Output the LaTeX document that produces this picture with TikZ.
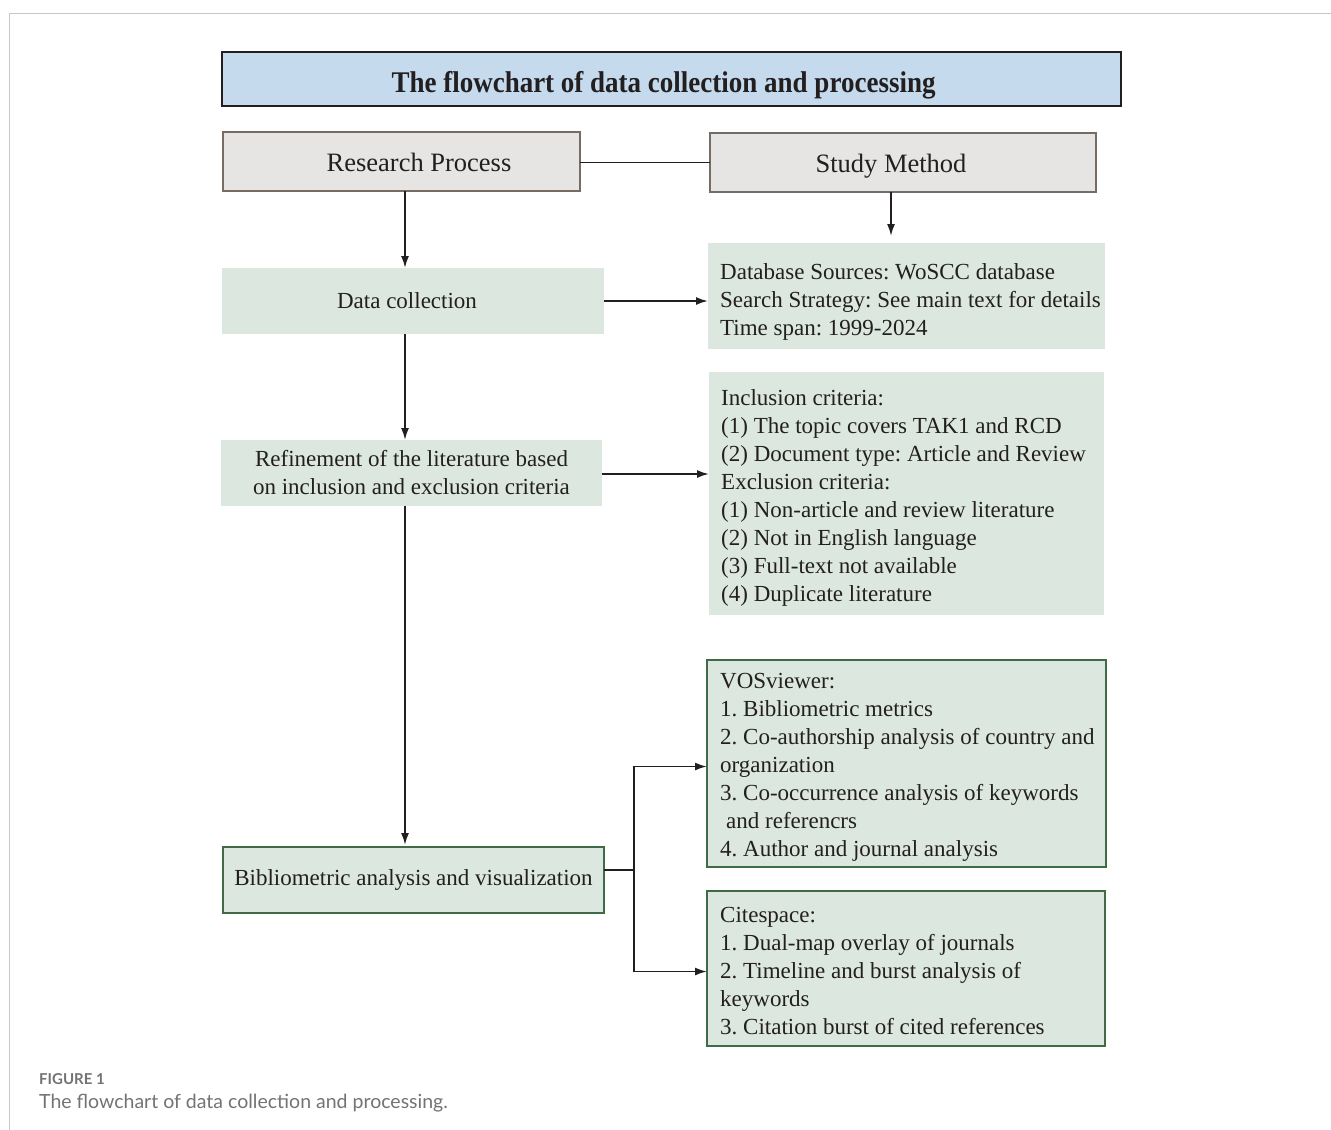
\documentclass[tikz,border=0pt]{standalone}
\usepackage{fontspec}
\setmainfont{Liberation Serif}
\newfontfamily\titlefont[FakeStretch=0.9]{Liberation Serif}
\newfontfamily\capfont{Lato}
\usetikzlibrary{arrows.meta,calc}
\definecolor{ink}{HTML}{231F20}
\definecolor{titlefill}{HTML}{C5DAED}
\definecolor{grayfill}{HTML}{E6E5E4}
\definecolor{grayline}{HTML}{766C66}
\definecolor{greenfill}{HTML}{DCE7DF}
\definecolor{greenline}{HTML}{3F6B46}
\definecolor{framegray}{HTML}{C8C8C8}
\definecolor{capgray}{HTML}{737373}
\frenchspacing
\begin{document}
\begin{tikzpicture}[x=1pt,y=-1pt,
  base/.style={anchor=north west, inner sep=0pt, outer sep=0pt, text=ink},
  titlebox/.style={base, fill=titlefill, draw=ink, line width=2.6pt,
    text height=26pt, text depth=0pt,
    font=\titlefont\bfseries\fontsize{30}{30}\selectfont},
  graybox/.style={base, fill=grayfill, draw=grayline, line width=1.6pt,
    text height=19pt, text depth=0pt,
    font=\fontsize{26.5}{30}\selectfont},
  greenbox/.style={base, fill=greenfill, align=center,
    font=\fontsize{23}{28}\selectfont},
  framedgreen/.style={greenbox, draw=greenline, line width=1.6pt},
  txt/.style={anchor=west, inner sep=0pt, align=left, text=ink,
    font=\fontsize{23}{28}\selectfont},
  conn/.style={draw=ink, line width=1.8pt},
  arr/.style={conn, -{Latex[length=12pt,width=8pt]}},
  captxt/.style={anchor=base west, inner sep=0pt, text=capgray}
]
\useasboundingbox (0,0) rectangle (1331,1130);
% page frame
\draw[framegray, line width=1.2pt] (9.5,1130) -- (9.5,13.5) -- (1331,13.5);

% title
\node[titlebox, minimum width=899, minimum height=54] (title) at (222,52)
  {The flowchart of data collection and processing\hspace*{16pt}};

% header boxes
\node[graybox, minimum width=357, minimum height=59] (rp) at (223,132)
  {\hspace*{35pt}Research Process};
\node[graybox, minimum width=386, minimum height=59] (sm) at (710,133)
  {Study Method\hspace*{24pt}};

% left column
\node[greenbox, minimum width=382, minimum height=66] (dc) at (222,268)
  {Data collection\hspace*{12pt}};
\node[greenbox, minimum width=381, minimum height=66] (ref) at (221,440)
  {Refinement of the literature based\\on inclusion and exclusion criteria};
\node[framedgreen, minimum width=381, minimum height=66] (bib) at (223,847)
  {Bibliometric analysis and visualization};

% right column boxes
\node[greenbox, minimum width=397, minimum height=106] (db) at (708,243) {};
\node[txt] at ([xshift=12pt, yshift=-6pt]db.west)
  {Database Sources: WoSCC database\\
   Search Strategy: See main text for details\\
   Time span: 1999-2024};

\node[greenbox, minimum width=395, minimum height=243] (crit) at (709,372) {};
\node[txt] at ([xshift=12pt, yshift=-4pt]crit.west)
  {Inclusion criteria:\\
   (1) The topic covers TAK1 and RCD\\
   (2) Document type: Article and Review\\
   Exclusion criteria:\\
   (1) Non-article and review literature\\
   (2) Not in English language\\
   (3) Full-text not available\\
   (4) Duplicate literature};

\node[framedgreen, minimum width=399, minimum height=207] (vos) at (707,660) {};
\node[txt] at ([xshift=13pt, yshift=-4pt]vos.west)
  {VOSviewer:\\
   1. Bibliometric metrics\\
   2. Co-authorship analysis of country and\\
   organization\\
   3. Co-occurrence analysis of keywords\\
   \hspace*{6pt}and referencrs\\
   4. Author and journal analysis};

\node[framedgreen, minimum width=398, minimum height=155] (cs) at (707,891) {};
\node[txt] at ([xshift=13pt, yshift=-3pt]cs.west)
  {Citespace:\\
   1. Dual-map overlay of journals\\
   2. Timeline and burst analysis of\\
   keywords\\
   3. Citation burst of cited references};

% connectors
\coordinate (lc) at (405,0);
\coordinate (rc) at (891,0);
\draw[conn] ([yshift=-1pt]rp.east) -- ([yshift=-1pt]rp.east -| sm.west);
\draw[arr] (rp.south -| lc) -- (dc.north -| lc);
\draw[arr] (dc.south -| lc) -- (ref.north -| lc);
\draw[arr] (ref.south -| lc) -- ([yshift=2pt]bib.north -| lc);
\draw[arr, shorten >=7pt] (sm.south -| rc) -- (db.north -| rc);
\draw[arr] (dc.east) -- (dc.east -| db.west);
\draw[arr] ([yshift=-1pt]ref.east) -- ([yshift=-1pt]ref.east -| crit.west);
\draw[conn] ([yshift=10pt]bib.east) -- ++(30,0) coordinate (j);
\draw[arr] (j) |- ([yshift=-3pt]vos.west);
\draw[arr] (j) |- ([yshift=-3pt]cs.west);

% caption
\node[captxt, font=\capfont\bfseries\fontsize{15}{15}\selectfont] (fig) at (39,1084) {FIGURE 1};
\node[captxt, font=\capfont\fontsize{19.5}{20}\selectfont] (capt) at (39,1108)
  {The flowchart of data collection and processing.};
\end{tikzpicture}
\end{document}
